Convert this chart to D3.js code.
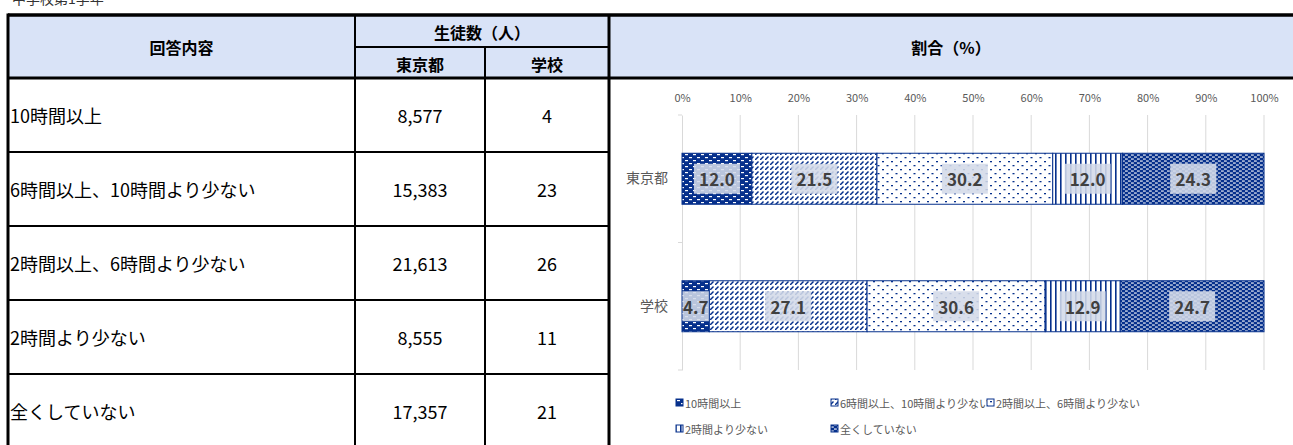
<!DOCTYPE html>
<html><head><meta charset="utf-8">
<script src="https://cdn.jsdelivr.net/npm/d3@7"></script>
<style>
html,body{margin:0;padding:0;background:#fff;}
svg{display:block;font-family:"Noto Sans CJK JP","Noto Sans",sans-serif;}
</style></head>
<body>
<svg id="c" width="1293" height="445"></svg>
<script>
// ---- data ----
const title = "中学校第1学年";
const answers = ["10時間以上","6時間以上、10時間より少ない","2時間以上、6時間より少ない","2時間より少ない","全くしていない"];
const tokyoCounts = ["8,577","15,383","21,613","8,555","17,357"];
const schoolCounts = ["4","23","26","11","21"];
const groups = ["東京都","学校"];
const tokyoPct = [12.0,21.5,30.2,12.0,24.3];
const schoolPct = [4.7,27.1,30.6,12.9,24.7];
const xTicks = [0,10,20,30,40,50,60,70,80,90,100];
const headers = {answer:"回答内容", count:"生徒数（人）", tokyo:"東京都", school:"学校", ratio:"割合（%）"};

const NAVY = "#06308c";
const svg = d3.select("#c");

// ---- patterns ----
const defs = svg.append("defs");
function pat(id,w,h,bg,draw){
  const p = defs.append("pattern").attr("id",id).attr("patternUnits","userSpaceOnUse").attr("width",w).attr("height",h);
  p.append("rect").attr("width",w).attr("height",h).attr("fill",bg);
  draw(p);
}
pat("p0",8,6,NAVY,p=>{
  p.append("rect").attr("x",1).attr("y",1).attr("width",3).attr("height",1.2).attr("fill","#fff");
  p.append("rect").attr("x",5).attr("y",4).attr("width",3).attr("height",1.2).attr("fill","#fff");
});
pat("p1",5,5,"#fff",p=>{
  p.append("path").attr("d","M0,5 L3.5,1.5").attr("stroke",NAVY).attr("stroke-width",1.5);
});
pat("p2",9,8,"#fff",p=>{
  p.append("rect").attr("x",0).attr("y",1).attr("width",2).attr("height",1.3).attr("fill",NAVY);
  p.append("rect").attr("x",4.5).attr("y",5).attr("width",2).attr("height",1.3).attr("fill",NAVY);
});
pat("p3",5,5,"#fff",p=>{
  p.append("rect").attr("x",0).attr("y",0).attr("width",1.6).attr("height",5).attr("fill",NAVY);
});
pat("p4",6,4,NAVY,p=>{
  p.append("rect").attr("x",0).attr("y",0.5).attr("width",2.8).attr("height",1.1).attr("fill","#fff");
  p.append("rect").attr("x",3).attr("y",2.5).attr("width",2.8).attr("height",1.1).attr("fill","#fff");
});
const fills = answers.map((d,i)=>"url(#p"+i+")");

// ---- table geometry ----
const X0=8, X1=355, X2=485, X3=609, XR=1300;
const Y0=15, YH=47, YB=78, RH=74;

// title (clipped at top, as in the reference)
svg.append("text").attr("x",12).attr("y",4).attr("font-size",14).attr("fill","#333").text(title);

// header background
svg.append("rect").attr("x",X0).attr("y",Y0).attr("width",XR-X0).attr("height",YB-Y0).attr("fill","#d9e3f7");

// header text
const ht = svg.append("g").attr("font-weight","bold").attr("font-size",16).attr("fill","#000").attr("text-anchor","middle").attr("dominant-baseline","central");
ht.append("text").attr("x",(X0+X1)/2).attr("y",(Y0+YB)/2).text(headers.answer);
ht.append("text").attr("x",(X1+X3)/2).attr("y",(Y0+YH)/2+1).text(headers.count);
ht.append("text").attr("x",(X1+X2)/2).attr("y",(YH+YB)/2+1).text(headers.tokyo);
ht.append("text").attr("x",(X2+X3)/2).attr("y",(YH+YB)/2+1).text(headers.school);
ht.append("text").attr("x",(X3+1293)/2).attr("y",(Y0+YB)/2).text(headers.ratio);

// body rows
const body = svg.append("g").attr("font-size",18).attr("fill","#000").attr("dominant-baseline","central");
answers.forEach((a,i)=>{
  const cy = YB + RH*i + RH/2;
  body.append("text").attr("x",X0+2).attr("y",cy).text(a);
  body.append("text").attr("x",(X1+X2)/2).attr("y",cy).attr("text-anchor","middle").text(tokyoCounts[i]);
  body.append("text").attr("x",(X2+X3)/2).attr("y",cy).attr("text-anchor","middle").text(schoolCounts[i]);
});

// table lines
const L = svg.append("g").attr("stroke","#000");
answers.forEach((a,i)=>{
  if(i>0) L.append("line").attr("x1",X0).attr("x2",X3).attr("y1",YB+RH*i).attr("y2",YB+RH*i).attr("stroke-width",2);
});
L.append("line").attr("x1",X1).attr("x2",X3).attr("y1",YH).attr("y2",YH).attr("stroke-width",2);
L.append("line").attr("x1",X1).attr("x2",X1).attr("y1",Y0).attr("y2",450).attr("stroke-width",2);
L.append("line").attr("x1",X2).attr("x2",X2).attr("y1",YH).attr("y2",450).attr("stroke-width",2);
L.append("line").attr("x1",X3).attr("x2",X3).attr("y1",Y0).attr("y2",450).attr("stroke-width",3);
L.append("line").attr("x1",X0).attr("x2",XR).attr("y1",YB).attr("y2",YB).attr("stroke-width",3);
L.append("line").attr("x1",X0).attr("x2",XR).attr("y1",Y0).attr("y2",Y0).attr("stroke-width",3.5);
L.append("line").attr("x1",X0).attr("x2",X0).attr("y1",Y0-1.5).attr("y2",450).attr("stroke-width",3);

// ---- chart ----
const x = d3.scaleLinear().domain([0,100]).range([682,1264]);
const y = d3.scaleBand().domain(groups).range([115,370]).paddingInner(0.6).paddingOuter(0.3);

// gridlines
svg.append("g").selectAll("line").data(xTicks.slice(1)).join("line")
  .attr("x1",d=>x(d)).attr("x2",d=>x(d)).attr("y1",115).attr("y2",370)
  .attr("stroke","#d9d9d9").attr("stroke-width",1);

// top axis labels
const xAxis = d3.axisTop(x).tickValues(xTicks).tickFormat(d=>d+"%").tickSize(0).tickPadding(0);
const ax = svg.append("g").attr("transform","translate(0,102)").call(xAxis);
ax.select(".domain").remove();
ax.selectAll("text").attr("font-size",11).attr("fill","#595959").attr("font-family","'Noto Sans CJK JP',sans-serif");

// category axis
const yAxis = d3.axisLeft(y).tickSize(0).tickPadding(14);
const ay = svg.append("g").attr("transform","translate(682,0)").call(yAxis);
ay.select(".domain").attr("stroke","#d9d9d9");
ay.selectAll("text").attr("font-size",14).attr("fill","#595959").attr("font-family","'Noto Sans CJK JP',sans-serif");
[115,242.5,370].forEach(v=>{
  svg.append("line").attr("x1",678).attr("x2",682).attr("y1",v).attr("y2",v).attr("stroke","#d9d9d9");
});

// stacked bars
const rows = [tokyoPct, schoolPct];
rows.forEach((vals,gi)=>{
  const g = svg.append("g");
  let acc = 0;
  const segs = vals.map((v,i)=>{const s={i,v,x0:acc,x1:acc+v}; acc+=v; return s;});
  g.selectAll("rect").data(segs).join("rect")
    .attr("x",d=>x(d.x0)).attr("y",y(groups[gi]))
    .attr("width",d=>x(d.x1)-x(d.x0)).attr("height",y.bandwidth())
    .attr("fill",d=>fills[d.i]).attr("stroke",NAVY).attr("stroke-width",1);
  const lab = g.selectAll("g.lab").data(segs).join("g").attr("class","lab")
    .attr("transform",d=>`translate(${x((d.x0+d.x1)/2)},${y(groups[gi])+y.bandwidth()/2})`);
  lab.append("rect").attr("y",-15).attr("height",30).attr("fill","#d3d9e8").attr("opacity",0.88)
    .attr("width",d=>Math.min(46,x(d.x1)-x(d.x0)-1)).attr("x",d=>-Math.min(46,x(d.x1)-x(d.x0)-1)/2);
  lab.append("text").attr("text-anchor","middle").attr("dominant-baseline","central")
    .attr("font-size",17).attr("font-weight","bold").attr("fill","#404040")
    .text(d=>d.v.toFixed(1));
});

// legend
const legPos = [[676,403],[831,403],[987,403],[676,429],[831,429]];
const leg = svg.append("g");
answers.forEach((a,i)=>{
  const [lx,ly] = legPos[i];
  leg.append("rect").attr("x",lx).attr("y",ly-4).attr("width",7).attr("height",7).attr("fill",fills[i]).attr("stroke",NAVY).attr("stroke-width",1);
  leg.append("text").attr("x",lx+9).attr("y",ly).attr("dominant-baseline","central").attr("font-size",11).attr("fill","#595959").text(a);
});
</script>
</body></html>
